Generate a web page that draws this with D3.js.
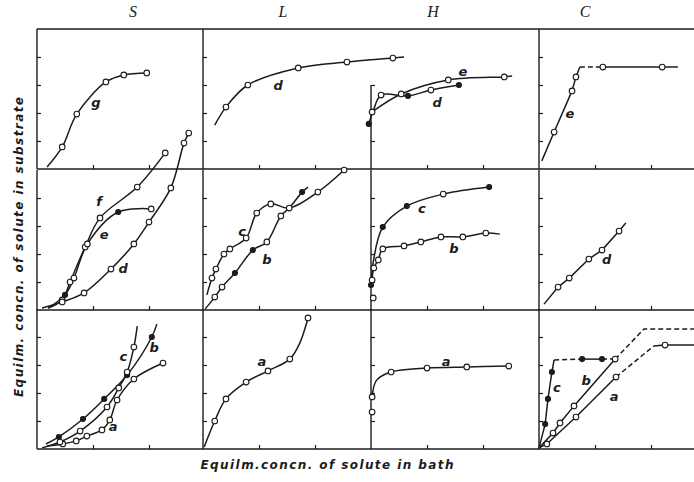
<!DOCTYPE html>
<html>
<head>
<meta charset="utf-8">
<script src="https://cdn.jsdelivr.net/npm/d3@7"></script>
<style>
  body { margin: 0; background: white; }
</style>
</head>
<body>
<div id="container"></div>
<script>

// column headers (isotherm classes)
let columns = ["S", "L", "H", "C"];
let yTitle = "Equilm. concn. of solute in substrate";
let xTitle = "Equilm.concn. of solute in bath";

// values in tick units: x (one tick = 1), y (one tick = 1)
// marks: o = open circle, f = filled dot, - = no marker

// top row
let sTop_g = [[0.18,0.07],[0.45,0.79],[0.71,1.96],[1.23,3.11],[1.55,3.36],[1.96,3.43]];
let sTop_gMarks = "-ooooo";
let lTop_d = [[0.21,1.57],[0.41,2.21],[0.80,3.0],[1.70,3.61],[2.57,3.82],[3.39,3.96],[3.59,4.0]];
let lTop_dMarks = "-ooooo-";
let hTop_e = [[0.02,2.04],[0.54,2.68],[1.38,3.18],[2.38,3.29],[2.52,3.32]];
let hTop_eMarks = "oooo-";
let hTop_d = [[-0.04,1.61],[0.04,2.07],[0.18,2.64],[0.66,2.61],[1.07,2.82],[1.57,3.0]];
let hTop_dMarks = "f-ofof";
let cTop_e1 = [[0.05,0.29],[0.27,1.32],[0.59,2.79],[0.66,3.29],[0.73,3.64]];
let cTop_e1Marks = "-ooo-";
let cTop_e2 = [[0.73,3.64],[1.14,3.64]];
let cTop_e3 = [[1.14,3.64],[2.2,3.64],[2.48,3.64]];
let cTop_e3Marks = "oo-";

// middle row
let sMid_f = [[0.2,0.07],[0.45,0.36],[0.59,1.0],[0.86,2.25],[1.125,3.29],[1.79,4.39],[2.29,5.61]];
let sMid_fMarks = "-oooooo";
let sMid_e = [[0.2,0.07],[0.5,0.54],[0.66,1.14],[0.9,2.36],[1.45,3.5],[2.04,3.61]];
let sMid_eMarks = "-foofo";
let sMid_d = [[0.09,0.07],[0.45,0.29],[0.84,0.61],[1.32,1.46],[1.73,2.36],[2.0,3.14],[2.39,4.36],[2.625,5.96],[2.71,6.32]];
let sMid_dMarks = "-oooooooo-";
let lMid_c = [[0.07,0.54],[0.16,1.14],[0.23,1.46],[0.375,2.0],[0.48,2.18],[0.77,2.57],[0.96,3.46],[1.21,3.79],[1.54,3.64],[2.05,4.21],[2.52,5.0]];
let lMid_cMarks = "-oooooooooo";
let lMid_b = [[0.04,0.04],[0.21,0.46],[0.34,0.82],[0.57,1.32],[0.89,2.14],[1.14,2.43],[1.39,3.36],[1.54,3.64],[1.77,4.21],[1.875,4.39]];
let lMid_bMarks = "-ooffoo-f-";
let hMid_c = [[0.0,0.89],[0.04,1.71],[0.21,2.96],[0.64,3.71],[1.29,4.14],[2.11,4.39]];
let hMid_cMarks = "f-ffof";
let hMid_b = [[0.02,1.07],[0.05,1.5],[0.13,1.79],[0.21,2.18],[0.59,2.29],[0.89,2.43],[1.25,2.61],[1.64,2.61],[2.05,2.75],[2.30,2.71]];
let hMid_bMarks = "ooooooooo-";
let hMid_b0 = [[0.04,0.43]];
let cMid_d = [[0.09,0.21],[0.34,0.82],[0.54,1.14],[0.89,1.82],[1.125,2.14],[1.43,2.82],[1.55,3.11]];
let cMid_dMarks = "-ooooo-";

// bottom row
let sBot_a = [[0.18,0.11],[0.46,0.18],[0.70,0.29],[0.89,0.46],[1.16,0.68],[1.30,1.04],[1.43,1.75],[1.73,2.5],[2.25,3.07]];
let sBot_aMarks = "-oooooooo";
let sBot_b = [[0.16,0.18],[0.39,0.43],[0.82,1.07],[1.2,1.79],[1.61,2.64],[2.05,4.0],[2.14,4.46]];
let sBot_bMarks = "-fffff-";
let sBot_c = [[0.09,0.04],[0.41,0.25],[0.77,0.64],[1.25,1.5],[1.46,2.18],[1.61,2.75],[1.73,3.64],[1.79,4.39]];
let sBot_cMarks = "-oooooo-";
let lBot_a = [[0.02,0.07],[0.21,1.0],[0.41,1.79],[0.77,2.39],[1.16,2.79],[1.55,3.21],[1.73,3.79],[1.875,4.68]];
let lBot_aMarks = "-ooooo-o";
let hBot_a = [[0.02,1.86],[0.1,2.46],[0.36,2.75],[1.0,2.89],[1.71,2.93],[2.46,2.96]];
let hBot_aMarks = "o-oooo";
let hBot_a0 = [[0.02,1.32]];
let cBot_c1 = [[0,0.04],[0.11,0.89],[0.16,1.79],[0.23,2.75],[0.27,3.18]];
let cBot_c1Marks = "-fff-";
let cBot_c2 = [[0.27,3.18],[0.77,3.21]];
let cBot_c3 = [[0.77,3.21],[1.125,3.21]];
let cBot_c3Marks = "ff";
let cBot_c4 = [[1.125,3.21],[1.36,3.21]];
let cBot_b1 = [[0,0.04],[0.25,0.57],[0.375,0.93],[0.625,1.54],[1.36,3.21]];
let cBot_b1Marks = "-oooo";
let cBot_b2 = [[1.36,3.21],[1.875,4.29],[2.77,4.29]];
let cBot_a1 = [[0,0.04],[0.14,0.18],[0.66,1.14],[1.375,2.57]];
let cBot_a1Marks = "-ooo";
let cBot_a2 = [[1.375,2.57],[2.05,3.68]];
let cBot_a3 = [[2.05,3.68],[2.25,3.71],[2.77,3.71]];
let cBot_a3Marks = "-o-";

let w = 694;
let h = 482;
let ink = "#1c1c1c";

let viz = d3.select("#container").append("svg")
    .attr("width", w)
    .attr("height", h)
    .style("background-color", "white");

let colLeft = [37, 203, 371, 539];
let rowBottom = [169, 310, 449];
let topY = 29;
let unitX = 56;
let unitY = 28;

function xScaleFor(col) {
  return d3.scaleLinear().domain([0, 3]).range([colLeft[col], colLeft[col] + 3 * unitX]);
}
function yScaleFor(row) {
  return d3.scaleLinear().domain([0, 5]).range([rowBottom[row], rowBottom[row] - 5 * unitY]);
}

// panels, built from the arrays above
let panels = [
  { col: 0, row: 0, curves: [{ pts: sTop_g, marks: sTop_gMarks }],
    labels: [["g", 1.05, 2.36]] },
  { col: 1, row: 0, curves: [{ pts: lTop_d, marks: lTop_dMarks }],
    labels: [["d", 1.34, 3.0]] },
  { col: 2, row: 0, axisTop: 3, curves: [{ pts: hTop_e, marks: hTop_eMarks }, { pts: hTop_d, marks: hTop_dMarks }],
    labels: [["e", 1.64, 3.5], ["d", 1.18, 2.39]] },
  { col: 3, row: 0, curves: [
      { pts: cTop_e1, marks: cTop_e1Marks, linear: true },
      { pts: cTop_e2, dash: true, linear: true },
      { pts: cTop_e3, marks: cTop_e3Marks, linear: true }],
    labels: [["e", 0.55, 2.0]] },

  { col: 0, row: 1, curves: [
      { pts: sMid_f, marks: sMid_fMarks },
      { pts: sMid_e, marks: sMid_eMarks },
      { pts: sMid_d, marks: sMid_dMarks }],
    labels: [["f", 1.11, 3.86], ["e", 1.2, 2.71], ["d", 1.54, 1.5]] },
  { col: 1, row: 1, curves: [{ pts: lMid_c, marks: lMid_cMarks }, { pts: lMid_b, marks: lMid_bMarks }],
    labels: [["c", 0.7, 2.82], ["b", 1.14, 1.82]] },
  { col: 2, row: 1, curves: [
      { pts: hMid_c, marks: hMid_cMarks },
      { pts: hMid_b, marks: hMid_bMarks },
      { pts: hMid_b0, marks: "o" }],
    labels: [["c", 0.91, 3.61], ["b", 1.48, 2.18]] },
  { col: 3, row: 1, curves: [{ pts: cMid_d, marks: cMid_dMarks, linear: true }],
    labels: [["d", 1.21, 1.79]] },

  { col: 0, row: 2, curves: [
      { pts: sBot_a, marks: sBot_aMarks },
      { pts: sBot_b, marks: sBot_bMarks },
      { pts: sBot_c, marks: sBot_cMarks }],
    labels: [["c", 1.54, 3.29], ["b", 2.09, 3.61], ["a", 1.36, 0.82]] },
  { col: 1, row: 2, curves: [{ pts: lBot_a, marks: lBot_aMarks }],
    labels: [["a", 1.05, 3.14]] },
  { col: 2, row: 2, curves: [{ pts: hBot_a, marks: hBot_aMarks }, { pts: hBot_a0, marks: "o" }],
    labels: [["a", 1.34, 3.14]] },
  { col: 3, row: 2, curves: [
      { pts: cBot_c1, marks: cBot_c1Marks, linear: true },
      { pts: cBot_c2, dash: true, linear: true },
      { pts: cBot_c3, marks: cBot_c3Marks, linear: true },
      { pts: cBot_c4, dash: true, linear: true },
      { pts: cBot_b1, marks: cBot_b1Marks, linear: true },
      { pts: cBot_b2, dash: true, linear: true },
      { pts: cBot_a1, marks: cBot_a1Marks, linear: true },
      { pts: cBot_a2, dash: true, linear: true },
      { pts: cBot_a3, marks: cBot_a3Marks, linear: true }],
    labels: [["c", 0.32, 2.21], ["b", 0.84, 2.46], ["a", 1.34, 1.89]] }
];

// horizontal frame lines (top edge and each row's base)
let hLines = [topY].concat(rowBottom);
viz.append("g").selectAll("line").data(hLines).enter().append("line")
    .attr("x1", colLeft[0]).attr("x2", w)
    .attr("y1", d => d).attr("y2", d => d)
    .attr("stroke", ink).attr("stroke-width", 1.4);

// column headers
viz.append("g").selectAll("text").data(columns).enter().append("text")
    .attr("x", (d, i) => [133, 283, 433, 585][i])
    .attr("y", 17)
    .attr("text-anchor", "middle")
    .style("font-family", "'Liberation Serif', serif")
    .style("font-style", "italic")
    .style("font-size", "16px")
    .attr("fill", ink)
    .text(d => d);

panels.forEach(function(p) {
  let x = xScaleFor(p.col);
  let y = yScaleFor(p.row);
  let top = p.axisTop || 5;
  let g = viz.append("g");

  // left axis line with inward ticks
  g.append("line")
      .attr("x1", x(0)).attr("x2", x(0))
      .attr("y1", y(0)).attr("y2", y(top))
      .attr("stroke", ink).attr("stroke-width", 1.4);

  let yTicks = d3.range(1, top === 5 ? 5 : top + 1);
  let yAxis = d3.axisLeft(y).tickValues(yTicks).tickSize(-4).tickFormat("");
  let yAxisGroup = g.append("g").attr("transform", "translate(" + x(0) + ",0)").call(yAxis);
  yAxisGroup.select(".domain").remove();
  yAxisGroup.selectAll("line").attr("stroke", ink).attr("stroke-width", 1.2);

  let xAxis = d3.axisBottom(x).tickValues([1, 2]).tickSize(-4).tickFormat("");
  let xAxisGroup = g.append("g").attr("transform", "translate(0," + y(0) + ")").call(xAxis);
  xAxisGroup.select(".domain").remove();
  xAxisGroup.selectAll("line").attr("stroke", ink).attr("stroke-width", 1.2);

  // curves
  p.curves.forEach(function(c) {
    let line = d3.line()
        .x(d => x(d[0]))
        .y(d => y(d[1]))
        .curve(c.linear ? d3.curveLinear : d3.curveCatmullRom.alpha(0.5));
    if (c.pts.length > 1) {
      g.append("path")
          .attr("d", line(c.pts))
          .attr("fill", "none")
          .attr("stroke", ink)
          .attr("stroke-width", 1.5)
          .attr("stroke-dasharray", c.dash ? "5,3" : null);
    }
  });

  // markers on top
  p.curves.forEach(function(c) {
    if (!c.marks) return;
    let pts = c.pts.filter((d, i) => c.marks[i] === "o" || c.marks[i] === "f");
    let kinds = c.pts.map((d, i) => c.marks[i]).filter(k => k === "o" || k === "f");
    g.selectAll(null).data(pts).enter().append("circle")
        .attr("cx", d => x(d[0]))
        .attr("cy", d => y(d[1]))
        .attr("r", (d, i) => kinds[i] === "f" ? 2.5 : 2.8)
        .attr("fill", (d, i) => kinds[i] === "f" ? ink : "white")
        .attr("stroke", ink)
        .attr("stroke-width", 1.1);
  });

  // curve letters
  g.selectAll(null).data(p.labels).enter().append("text")
      .attr("x", d => x(d[1]))
      .attr("y", d => y(d[2]))
      .attr("text-anchor", "middle")
      .attr("dominant-baseline", "central")
      .style("font-family", "'DejaVu Sans', sans-serif")
      .style("font-style", "italic")
      .style("font-weight", "bold")
      .style("font-size", "13px")
      .attr("fill", ink)
      .text(d => d[0]);
});

// axis titles
viz.append("text")
    .attr("transform", "translate(19,247) rotate(-90)")
    .attr("text-anchor", "middle")
    .attr("dominant-baseline", "central")
    .attr("textLength", 300)
    .attr("lengthAdjust", "spacing")
    .style("font-family", "'DejaVu Sans', sans-serif")
    .style("font-style", "italic")
    .style("font-weight", "bold")
    .style("font-size", "12px")
    .attr("fill", ink)
    .text(yTitle);

viz.append("text")
    .attr("x", 327)
    .attr("y", 465)
    .attr("text-anchor", "middle")
    .attr("dominant-baseline", "central")
    .attr("textLength", 253)
    .attr("lengthAdjust", "spacing")
    .style("font-family", "'DejaVu Sans', sans-serif")
    .style("font-style", "italic")
    .style("font-weight", "bold")
    .style("font-size", "12px")
    .attr("fill", ink)
    .text(xTitle);

</script>
</body>
</html>
